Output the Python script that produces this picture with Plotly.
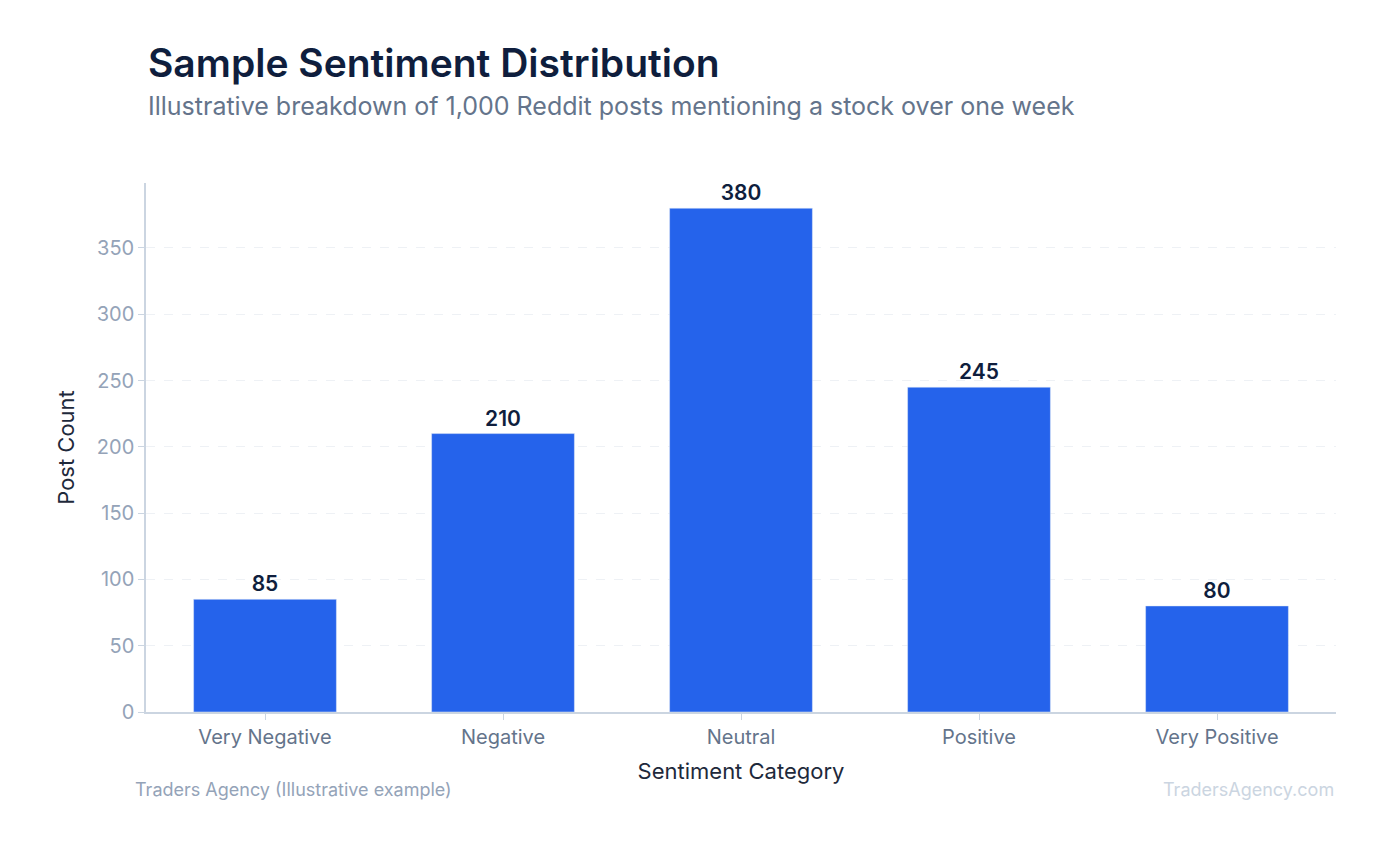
import plotly.graph_objects as go

categories = ["Very Negative", "Negative", "Neutral", "Positive", "Very Positive"]
counts = [85, 210, 380, 245, 80]

fig = go.Figure(go.Bar(
    x=categories, y=counts, marker_color="#2563eb", width=0.6,
    text=counts, textposition="outside", cliponaxis=False,
    textfont=dict(family="Inter", size=21, color="#0f1e3d", weight=600),
))
fig.update_layout(
    width=1380, height=845, paper_bgcolor="white", plot_bgcolor="white",
    margin=dict(l=138, r=52, t=175, b=141),
    font=dict(family="Inter"),
    showlegend=False,
    xaxis=dict(showline=True, linecolor="#cbd5e1", linewidth=1.5, ticks="outside",
               ticklen=6, tickcolor="#cbd5e1",
               tickfont=dict(size=20, color="#64748b"),
               title=dict(text="Sentiment Category", font=dict(size=22, color="#1e293b"), standoff=16)),
    yaxis=dict(range=[0, 399], dtick=50, showline=True, linecolor="#cbd5e1", linewidth=1.5,
               ticks="outside", ticklen=6, tickcolor="#cbd5e1",
               gridcolor="#eef1f5", griddash="dash", zeroline=False,
               tickfont=dict(size=20, color="#94a3b8"),
               title=dict(text="Post Count", font=dict(size=22, color="#1e293b"), standoff=16)),
)

def py(pix):
    return (712 - pix) / 529

ann = [
    dict(text="Sample Sentiment Distribution", xref="paper", yref="paper", x=0, y=py(62),
         xanchor="left", yanchor="middle", showarrow=False,
         font=dict(size=39, color="#0f1e3d", weight=600)),
    dict(text="Illustrative breakdown of 1,000 Reddit posts mentioning a stock over one week",
         xref="paper", yref="paper", x=0, y=py(106), xanchor="left", yanchor="middle", showarrow=False,
         font=dict(size=25, color="#64748b")),
    dict(text="Traders Agency (Illustrative example)", xref="paper", yref="paper", x=(133 - 146) / 1190,
         y=py(789), xanchor="left", yanchor="middle", showarrow=False, font=dict(size=18, color="#94a3b8")),
    dict(text="TradersAgency.com", xref="paper", yref="paper", x=1, y=py(789),
         xanchor="right", yanchor="middle", showarrow=False, font=dict(size=18, color="#cbd5e1")),
]
fig.update_layout(annotations=ann)
fig.write_html("out.html")
